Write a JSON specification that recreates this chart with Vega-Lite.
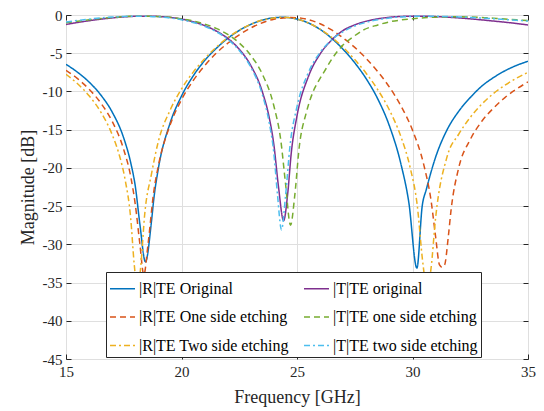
{
"$schema": "https://vega.github.io/schema/vega-lite/v6.json",
"width": 462, "height": 344,
"autosize": {"type": "none"},
"padding": {"left": 66, "top": 15, "right": 16, "bottom": 52},
"background": "white",
"config": {
  "font": "Liberation Serif",
  "style": {"guide-label": {"font": "Liberation Serif"}, "guide-title": {"font": "Liberation Serif"}},
  "view": {"stroke": "#262626", "strokeWidth": 1},
  "axis": {"labelFont": "Liberation Serif", "titleFont": "Liberation Serif", "labelFontSize": 15, "titleFontSize": 18, "titleFontWeight": "normal", "labelColor": "#262626", "titleColor": "#262626", "gridColor": "#dfdfdf", "gridWidth": 1, "domain": false, "tickColor": "#262626", "tickSize": -5, "tickWidth": 1, "labelFlush": false},
  "legend": {"labelFont": "Liberation Serif", "labelFontSize": 16}
},
"data": {"values": [
{"s":"|R|TE Original","f":15,"m":-6.45},{"s":"|R|TE Original","f":15.5,"m":-7.49},{"s":"|R|TE Original","f":16,"m":-8.77},{"s":"|R|TE Original","f":16.5,"m":-10.44},{"s":"|R|TE Original","f":17,"m":-12.7},{"s":"|R|TE Original","f":17.5,"m":-16.1},{"s":"|R|TE Original","f":17.8,"m":-19.3},{"s":"|R|TE Original","f":18,"m":-22.4},{"s":"|R|TE Original","f":18.2,"m":-27.4},{"s":"|R|TE Original","f":18.44,"m":-32.3},{"s":"|R|TE Original","f":18.7,"m":-27.0},{"s":"|R|TE Original","f":18.8,"m":-24.1},{"s":"|R|TE Original","f":19,"m":-20.05},{"s":"|R|TE Original","f":19.5,"m":-14.2},{"s":"|R|TE Original","f":20,"m":-10.6},{"s":"|R|TE Original","f":20.5,"m":-8.0},{"s":"|R|TE Original","f":21,"m":-5.97},{"s":"|R|TE Original","f":21.5,"m":-4.38},{"s":"|R|TE Original","f":22,"m":-3.06},{"s":"|R|TE Original","f":22.5,"m":-2.02},{"s":"|R|TE Original","f":23,"m":-1.23},{"s":"|R|TE Original","f":23.5,"m":-0.67},{"s":"|R|TE Original","f":24,"m":-0.36},{"s":"|R|TE Original","f":24.4,"m":-0.3},{"s":"|R|TE Original","f":24.8,"m":-0.4},{"s":"|R|TE Original","f":25,"m":-0.53},{"s":"|R|TE Original","f":25.5,"m":-1.05},{"s":"|R|TE Original","f":26,"m":-1.88},{"s":"|R|TE Original","f":26.5,"m":-3.04},{"s":"|R|TE Original","f":27,"m":-4.5},{"s":"|R|TE Original","f":27.5,"m":-6.25},{"s":"|R|TE Original","f":28,"m":-8.36},{"s":"|R|TE Original","f":28.5,"m":-11.0},{"s":"|R|TE Original","f":29,"m":-14.5},{"s":"|R|TE Original","f":29.5,"m":-19.5},{"s":"|R|TE Original","f":29.84,"m":-24.5},{"s":"|R|TE Original","f":30.19,"m":-33.1},{"s":"|R|TE Original","f":30.42,"m":-25.0},{"s":"|R|TE Original","f":30.6,"m":-22.8},{"s":"|R|TE Original","f":31,"m":-18.6},{"s":"|R|TE Original","f":31.5,"m":-15.0},{"s":"|R|TE Original","f":32,"m":-12.6},{"s":"|R|TE Original","f":32.5,"m":-10.8},{"s":"|R|TE Original","f":33,"m":-9.3},{"s":"|R|TE Original","f":33.5,"m":-8.2},{"s":"|R|TE Original","f":34,"m":-7.3},{"s":"|R|TE Original","f":34.5,"m":-6.6},{"s":"|R|TE Original","f":35,"m":-6.05},
{"s":"|R|TE One side etching","f":15,"m":-7.23},{"s":"|R|TE One side etching","f":15.5,"m":-8.33},{"s":"|R|TE One side etching","f":16,"m":-9.71},{"s":"|R|TE One side etching","f":16.5,"m":-11.49},{"s":"|R|TE One side etching","f":17,"m":-13.92},{"s":"|R|TE One side etching","f":17.5,"m":-17.61},{"s":"|R|TE One side etching","f":17.8,"m":-21.1},{"s":"|R|TE One side etching","f":18,"m":-24.8},{"s":"|R|TE One side etching","f":18.2,"m":-30.0},{"s":"|R|TE One side etching","f":18.37,"m":-34.0},{"s":"|R|TE One side etching","f":18.55,"m":-30.0},{"s":"|R|TE One side etching","f":18.8,"m":-23.1},{"s":"|R|TE One side etching","f":19,"m":-19.7},{"s":"|R|TE One side etching","f":19.5,"m":-14.44},{"s":"|R|TE One side etching","f":20,"m":-11.08},{"s":"|R|TE One side etching","f":20.5,"m":-8.6},{"s":"|R|TE One side etching","f":21,"m":-6.64},{"s":"|R|TE One side etching","f":21.5,"m":-5.0},{"s":"|R|TE One side etching","f":22,"m":-3.7},{"s":"|R|TE One side etching","f":22.5,"m":-2.59},{"s":"|R|TE One side etching","f":23,"m":-1.69},{"s":"|R|TE One side etching","f":23.5,"m":-1.01},{"s":"|R|TE One side etching","f":24,"m":-0.55},{"s":"|R|TE One side etching","f":24.4,"m":-0.4},{"s":"|R|TE One side etching","f":24.72,"m":-0.33},{"s":"|R|TE One side etching","f":25.1,"m":-0.37},{"s":"|R|TE One side etching","f":25.4,"m":-0.53},{"s":"|R|TE One side etching","f":26,"m":-1.15},{"s":"|R|TE One side etching","f":26.5,"m":-1.96},{"s":"|R|TE One side etching","f":27,"m":-3.01},{"s":"|R|TE One side etching","f":27.5,"m":-4.24},{"s":"|R|TE One side etching","f":28,"m":-5.7},{"s":"|R|TE One side etching","f":28.5,"m":-7.42},{"s":"|R|TE One side etching","f":29,"m":-9.43},{"s":"|R|TE One side etching","f":29.5,"m":-11.9},{"s":"|R|TE One side etching","f":30,"m":-15.07},{"s":"|R|TE One side etching","f":30.5,"m":-19.74},{"s":"|R|TE One side etching","f":30.8,"m":-24.2},{"s":"|R|TE One side etching","f":31,"m":-29.0},{"s":"|R|TE One side etching","f":31.17,"m":-32.7},{"s":"|R|TE One side etching","f":31.28,"m":-33.0},{"s":"|R|TE One side etching","f":31.39,"m":-32.7},{"s":"|R|TE One side etching","f":31.55,"m":-29.0},{"s":"|R|TE One side etching","f":31.67,"m":-25.5},{"s":"|R|TE One side etching","f":32,"m":-20.0},{"s":"|R|TE One side etching","f":32.5,"m":-16.3},{"s":"|R|TE One side etching","f":33,"m":-13.9},{"s":"|R|TE One side etching","f":33.5,"m":-12.2},{"s":"|R|TE One side etching","f":34,"m":-10.8},{"s":"|R|TE One side etching","f":34.5,"m":-9.7},{"s":"|R|TE One side etching","f":35,"m":-8.75},
{"s":"|R|TE Two side etching","f":15,"m":-7.75},{"s":"|R|TE Two side etching","f":15.5,"m":-8.99},{"s":"|R|TE Two side etching","f":16,"m":-10.57},{"s":"|R|TE Two side etching","f":16.5,"m":-12.66},{"s":"|R|TE Two side etching","f":17,"m":-15.66},{"s":"|R|TE Two side etching","f":17.3,"m":-18.25},{"s":"|R|TE Two side etching","f":17.55,"m":-21.4},{"s":"|R|TE Two side etching","f":17.8,"m":-26.56},{"s":"|R|TE Two side etching","f":17.95,"m":-32.5},{"s":"|R|TE Two side etching","f":18.1,"m":-36},{"s":"|R|TE Two side etching","f":18.25,"m":-32.4},{"s":"|R|TE Two side etching","f":18.4,"m":-26.3},{"s":"|R|TE Two side etching","f":18.7,"m":-20.8},{"s":"|R|TE Two side etching","f":19,"m":-16.51},{"s":"|R|TE Two side etching","f":19.5,"m":-12.5},{"s":"|R|TE Two side etching","f":20,"m":-9.67},{"s":"|R|TE Two side etching","f":20.5,"m":-7.5},{"s":"|R|TE Two side etching","f":21,"m":-5.72},{"s":"|R|TE Two side etching","f":21.5,"m":-4.23},{"s":"|R|TE Two side etching","f":22,"m":-2.98},{"s":"|R|TE Two side etching","f":22.5,"m":-1.99},{"s":"|R|TE Two side etching","f":23,"m":-1.21},{"s":"|R|TE Two side etching","f":23.5,"m":-0.66},{"s":"|R|TE Two side etching","f":24,"m":-0.39},{"s":"|R|TE Two side etching","f":24.33,"m":-0.3},{"s":"|R|TE Two side etching","f":24.7,"m":-0.37},{"s":"|R|TE Two side etching","f":25,"m":-0.54},{"s":"|R|TE Two side etching","f":25.5,"m":-1.06},{"s":"|R|TE Two side etching","f":26,"m":-1.86},{"s":"|R|TE Two side etching","f":26.5,"m":-2.92},{"s":"|R|TE Two side etching","f":27,"m":-4.24},{"s":"|R|TE Two side etching","f":27.5,"m":-5.83},{"s":"|R|TE Two side etching","f":28,"m":-7.65},{"s":"|R|TE Two side etching","f":28.5,"m":-9.79},{"s":"|R|TE Two side etching","f":29,"m":-12.43},{"s":"|R|TE Two side etching","f":29.5,"m":-15.93},{"s":"|R|TE Two side etching","f":29.9,"m":-19.98},{"s":"|R|TE Two side etching","f":30.2,"m":-24.76},{"s":"|R|TE Two side etching","f":30.45,"m":-32.5},{"s":"|R|TE Two side etching","f":30.63,"m":-36},{"s":"|R|TE Two side etching","f":30.8,"m":-33.2},{"s":"|R|TE Two side etching","f":31,"m":-26.56},{"s":"|R|TE Two side etching","f":31.5,"m":-18.5},{"s":"|R|TE Two side etching","f":32,"m":-15.6},{"s":"|R|TE Two side etching","f":32.5,"m":-13.4},{"s":"|R|TE Two side etching","f":33,"m":-11.66},{"s":"|R|TE Two side etching","f":33.5,"m":-10.28},{"s":"|R|TE Two side etching","f":34,"m":-9.19},{"s":"|R|TE Two side etching","f":34.5,"m":-8.27},{"s":"|R|TE Two side etching","f":35,"m":-7.5},
{"s":"|T|TE original","f":15,"m":-1.24},{"s":"|T|TE original","f":15.5,"m":-0.98},{"s":"|T|TE original","f":16,"m":-0.75},{"s":"|T|TE original","f":16.5,"m":-0.55},{"s":"|T|TE original","f":17,"m":-0.38},{"s":"|T|TE original","f":17.5,"m":-0.25},{"s":"|T|TE original","f":18,"m":-0.17},{"s":"|T|TE original","f":18.5,"m":-0.15},{"s":"|T|TE original","f":19,"m":-0.19},{"s":"|T|TE original","f":19.5,"m":-0.31},{"s":"|T|TE original","f":20,"m":-0.53},{"s":"|T|TE original","f":20.5,"m":-0.88},{"s":"|T|TE original","f":21,"m":-1.38},{"s":"|T|TE original","f":21.5,"m":-2.09},{"s":"|T|TE original","f":22,"m":-3.06},{"s":"|T|TE original","f":22.5,"m":-4.48},{"s":"|T|TE original","f":23,"m":-6.61},{"s":"|T|TE original","f":23.5,"m":-10.05},{"s":"|T|TE original","f":23.8,"m":-13.46},{"s":"|T|TE original","f":24,"m":-17.0},{"s":"|T|TE original","f":24.2,"m":-22.5},{"s":"|T|TE original","f":24.42,"m":-26.9},{"s":"|T|TE original","f":24.6,"m":-23.3},{"s":"|T|TE original","f":24.75,"m":-18.1},{"s":"|T|TE original","f":25,"m":-13.2},{"s":"|T|TE original","f":25.5,"m":-8.0},{"s":"|T|TE original","f":26,"m":-5.1},{"s":"|T|TE original","f":26.5,"m":-3.27},{"s":"|T|TE original","f":27,"m":-2.02},{"s":"|T|TE original","f":27.5,"m":-1.29},{"s":"|T|TE original","f":28,"m":-0.81},{"s":"|T|TE original","f":28.5,"m":-0.5},{"s":"|T|TE original","f":29,"m":-0.3},{"s":"|T|TE original","f":29.5,"m":-0.19},{"s":"|T|TE original","f":30.2,"m":-0.15},{"s":"|T|TE original","f":30.5,"m":-0.16},{"s":"|T|TE original","f":31,"m":-0.21},{"s":"|T|TE original","f":31.5,"m":-0.28},{"s":"|T|TE original","f":32,"m":-0.38},{"s":"|T|TE original","f":32.5,"m":-0.5},{"s":"|T|TE original","f":33,"m":-0.64},{"s":"|T|TE original","f":33.5,"m":-0.79},{"s":"|T|TE original","f":34,"m":-0.94},{"s":"|T|TE original","f":34.5,"m":-1.11},{"s":"|T|TE original","f":35,"m":-1.3},
{"s":"|T|TE one side etching","f":15,"m":-1.03},{"s":"|T|TE one side etching","f":15.5,"m":-0.82},{"s":"|T|TE one side etching","f":16,"m":-0.63},{"s":"|T|TE one side etching","f":16.5,"m":-0.46},{"s":"|T|TE one side etching","f":17,"m":-0.32},{"s":"|T|TE one side etching","f":17.5,"m":-0.22},{"s":"|T|TE one side etching","f":18.4,"m":-0.15},{"s":"|T|TE one side etching","f":19,"m":-0.2},{"s":"|T|TE one side etching","f":19.5,"m":-0.3},{"s":"|T|TE one side etching","f":20,"m":-0.49},{"s":"|T|TE one side etching","f":20.5,"m":-0.77},{"s":"|T|TE one side etching","f":21,"m":-1.18},{"s":"|T|TE one side etching","f":21.5,"m":-1.75},{"s":"|T|TE one side etching","f":22,"m":-2.54},{"s":"|T|TE one side etching","f":22.5,"m":-3.66},{"s":"|T|TE one side etching","f":23,"m":-5.29},{"s":"|T|TE one side etching","f":23.5,"m":-7.74},{"s":"|T|TE one side etching","f":24,"m":-11.91},{"s":"|T|TE one side etching","f":24.3,"m":-16.43},{"s":"|T|TE one side etching","f":24.5,"m":-21.97},{"s":"|T|TE one side etching","f":24.72,"m":-27.5},{"s":"|T|TE one side etching","f":24.9,"m":-23.7},{"s":"|T|TE one side etching","f":25.1,"m":-17.2},{"s":"|T|TE one side etching","f":25.4,"m":-12.8},{"s":"|T|TE one side etching","f":25.7,"m":-10.0},{"s":"|T|TE one side etching","f":26,"m":-8.3},{"s":"|T|TE one side etching","f":26.26,"m":-7.0},{"s":"|T|TE one side etching","f":26.5,"m":-5.8},{"s":"|T|TE one side etching","f":27,"m":-3.9},{"s":"|T|TE one side etching","f":27.5,"m":-2.7},{"s":"|T|TE one side etching","f":27.85,"m":-2.0},{"s":"|T|TE one side etching","f":28.5,"m":-1.3},{"s":"|T|TE one side etching","f":29,"m":-0.9},{"s":"|T|TE one side etching","f":29.5,"m":-0.65},{"s":"|T|TE one side etching","f":30,"m":-0.48},{"s":"|T|TE one side etching","f":30.5,"m":-0.36},{"s":"|T|TE one side etching","f":31,"m":-0.28},{"s":"|T|TE one side etching","f":31.5,"m":-0.24},{"s":"|T|TE one side etching","f":32,"m":-0.23},{"s":"|T|TE one side etching","f":32.5,"m":-0.26},{"s":"|T|TE one side etching","f":33,"m":-0.32},{"s":"|T|TE one side etching","f":33.5,"m":-0.42},{"s":"|T|TE one side etching","f":34,"m":-0.52},{"s":"|T|TE one side etching","f":34.5,"m":-0.63},{"s":"|T|TE one side etching","f":35,"m":-0.72},
{"s":"|T|TE two side etching","f":15,"m":-0.92},{"s":"|T|TE two side etching","f":15.5,"m":-0.72},{"s":"|T|TE two side etching","f":16,"m":-0.54},{"s":"|T|TE two side etching","f":16.5,"m":-0.38},{"s":"|T|TE two side etching","f":17,"m":-0.27},{"s":"|T|TE two side etching","f":17.5,"m":-0.19},{"s":"|T|TE two side etching","f":18.1,"m":-0.15},{"s":"|T|TE two side etching","f":19,"m":-0.24},{"s":"|T|TE two side etching","f":19.5,"m":-0.39},{"s":"|T|TE two side etching","f":20,"m":-0.63},{"s":"|T|TE two side etching","f":20.5,"m":-0.97},{"s":"|T|TE two side etching","f":21,"m":-1.47},{"s":"|T|TE two side etching","f":21.5,"m":-2.18},{"s":"|T|TE two side etching","f":22,"m":-3.18},{"s":"|T|TE two side etching","f":22.5,"m":-4.63},{"s":"|T|TE two side etching","f":23,"m":-6.82},{"s":"|T|TE two side etching","f":23.5,"m":-10.43},{"s":"|T|TE two side etching","f":23.8,"m":-14.13},{"s":"|T|TE two side etching","f":24,"m":-18.13},{"s":"|T|TE two side etching","f":24.15,"m":-23.34},{"s":"|T|TE two side etching","f":24.33,"m":-28.1},{"s":"|T|TE two side etching","f":24.5,"m":-23.78},{"s":"|T|TE two side etching","f":24.7,"m":-17.03},{"s":"|T|TE two side etching","f":25,"m":-11.98},{"s":"|T|TE two side etching","f":25.5,"m":-7.48},{"s":"|T|TE two side etching","f":26,"m":-4.89},{"s":"|T|TE two side etching","f":26.5,"m":-3.25},{"s":"|T|TE two side etching","f":27,"m":-2.17},{"s":"|T|TE two side etching","f":27.5,"m":-1.43},{"s":"|T|TE two side etching","f":28,"m":-0.94},{"s":"|T|TE two side etching","f":28.5,"m":-0.62},{"s":"|T|TE two side etching","f":29,"m":-0.39},{"s":"|T|TE two side etching","f":29.5,"m":-0.25},{"s":"|T|TE two side etching","f":30.63,"m":-0.15},{"s":"|T|TE two side etching","f":31.5,"m":-0.2},{"s":"|T|TE two side etching","f":32,"m":-0.25},{"s":"|T|TE two side etching","f":32.5,"m":-0.32},{"s":"|T|TE two side etching","f":33,"m":-0.4},{"s":"|T|TE two side etching","f":33.5,"m":-0.49},{"s":"|T|TE two side etching","f":34,"m":-0.59},{"s":"|T|TE two side etching","f":34.5,"m":-0.69},{"s":"|T|TE two side etching","f":35,"m":-0.8}
]},
"layer": [
  {
    "mark": {"type": "line", "strokeWidth": 1.5, "clip": true, "interpolate": "monotone"},
    "encoding": {
      "x": {"field": "f", "type": "quantitative", "scale": {"domain": [15, 35], "nice": false, "zero": false},
            "axis": {"orient": "bottom", "title": "Frequency [GHz]", "values": [15, 20, 25, 30, 35], "labelPadding": 10, "titlePadding": 9, "labelFlush": false, "labelFont": "Liberation Serif", "titleFont": "Liberation Serif", "labelExpr": "'' + datum.value"}},
      "y": {"field": "m", "type": "quantitative", "scale": {"domain": [-45, 0], "nice": false, "zero": false},
            "axis": {"orient": "left", "title": "Magnitude [dB]", "values": [-45, -40, -35, -30, -25, -20, -15, -10, -5, 0], "labelPadding": 9, "titlePadding": 5, "labelFlush": false, "labelFont": "Liberation Serif", "titleFont": "Liberation Serif", "labelExpr": "'' + datum.value"}},
      "color": {"field": "s", "type": "nominal",
        "scale": {"domain": ["|R|TE Original", "|R|TE One side etching", "|R|TE Two side etching", "|T|TE original", "|T|TE one side etching", "|T|TE two side etching"],
                  "range": ["#0072BD", "#D95319", "#EDB120", "#7E2F8E", "#77AC30", "#4DBEEE"]},
        "legend": {"orient": "none", "legendX": 40, "legendY": 257, "columns": 2, "title": null, "symbolType": "stroke", "symbolSize": 625, "symbolStrokeWidth": 1.5, "labelFont": "Liberation Serif", "labelFontSize": 16, "labelColor": "#000000", "fillColor": "white", "strokeColor": "#262626", "padding": 3, "rowPadding": 6.5, "columnPadding": 12, "labelLimit": 300, "labelOffset": 3}},
      "strokeDash": {"field": "s", "type": "nominal",
        "scale": {"domain": ["|R|TE Original", "|R|TE One side etching", "|R|TE Two side etching", "|T|TE original", "|T|TE one side etching", "|T|TE two side etching"],
                  "range": [[1, 0], [6, 4], [6, 3, 2, 3], [1, 0], [6, 4], [6, 3, 2, 3]]},
        "legend": {"orient": "none", "legendX": 40, "legendY": 257, "columns": 2, "title": null, "symbolType": "stroke", "symbolSize": 625, "symbolStrokeWidth": 1.5, "labelFont": "Liberation Serif", "labelFontSize": 16, "labelColor": "#000000", "fillColor": "white", "strokeColor": "#262626", "padding": 3, "rowPadding": 6.5, "columnPadding": 12, "labelLimit": 300, "labelOffset": 3}},
      "order": {"field": "f", "type": "quantitative"}
    }
  },
  {
    "mark": {"type": "line", "strokeOpacity": 0, "clip": true},
    "encoding": {
      "x": {"field": "f", "type": "quantitative", "axis": {"orient": "top", "title": null, "labels": false, "grid": false, "values": [15, 20, 25, 30, 35]}},
      "y": {"field": "m", "type": "quantitative", "axis": {"orient": "right", "title": null, "labels": false, "grid": false, "values": [-45, -40, -35, -30, -25, -20, -15, -10, -5, 0]}}
    }
  }
],
"resolve": {"axis": {"x": "independent", "y": "independent"}}
}
